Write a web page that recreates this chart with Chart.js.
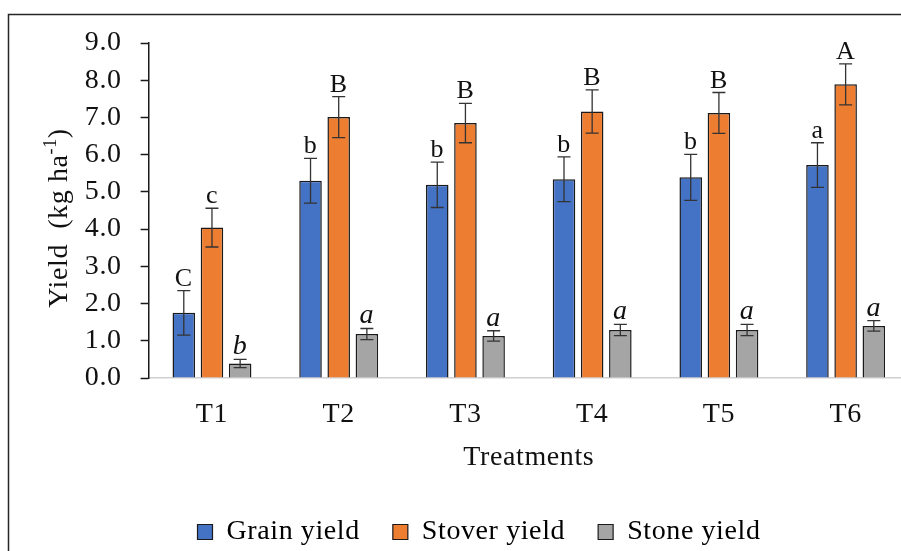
<!DOCTYPE html>
<html>
<head>
<meta charset="utf-8">
<script src="https://cdn.jsdelivr.net/npm/chart.js@4.4.1/dist/chart.umd.min.js"></script>
<style>
  html, body { margin: 0; padding: 0; background: #fff; overflow: hidden; }
  #wrap { position: relative; width: 909px; height: 556px; }
</style>
</head>
<body>
<div id="wrap"><canvas id="yieldChart" width="909" height="556"></canvas></div>
<script>
const treatments = ['T1', 'T2', 'T3', 'T4', 'T5', 'T6'];
const grainYield = [1.75, 5.30, 5.19, 5.34, 5.39, 5.72];
const stoverYield = [4.04, 7.01, 6.85, 7.16, 7.12, 7.89];
const stoneYield = [0.39, 1.18, 1.13, 1.29, 1.29, 1.40];
const grainErr = [0.60, 0.60, 0.61, 0.60, 0.62, 0.60];
const stoverErr = [0.52, 0.55, 0.53, 0.58, 0.55, 0.55];
const stoneErr = [0.11, 0.15, 0.14, 0.15, 0.15, 0.14];
const grainLetters = ['C', 'b', 'b', 'b', 'b', 'a'];
const stoverLetters = ['c', 'B', 'B', 'B', 'B', 'A'];
const stoneLetters = ['b', 'a', 'a', 'a', 'a', 'a'];

const serif = "'Liberation Serif', 'Times New Roman', serif";
const textColor = '#111';

// the original text is a little spread out
const spacingPlugin = {
    id: 'spacing',
    beforeLayout(chart) { chart.ctx.letterSpacing = '0.6px'; },
    beforeDraw(chart) { chart.ctx.letterSpacing = '0.6px'; }
};

// error bars and significance letters on top of each bar
const errorBarPlugin = {
    id: 'errorBars',
    afterDatasetsDraw(chart) {
        const ctx = chart.ctx;
        const yScale = chart.scales.y;
        const errs = [grainErr, stoverErr, stoneErr];
        const letters = [grainLetters, stoverLetters, stoneLetters];
        chart.data.datasets.forEach(function (ds, di) {
            const meta = chart.getDatasetMeta(di);
            meta.data.forEach(function (bar, i) {
                const v = ds.data[i];
                const e = errs[di][i];
                const yTop = yScale.getPixelForValue(v + e);
                const yBot = yScale.getPixelForValue(v - e);
                const x = bar.x;
                ctx.save();
                ctx.strokeStyle = '#333';
                ctx.lineWidth = 1.3;
                ctx.beginPath();
                ctx.moveTo(x, yTop);
                ctx.lineTo(x, yBot);
                ctx.moveTo(x - 6.5, yTop);
                ctx.lineTo(x + 6.5, yTop);
                ctx.moveTo(x - 6.5, yBot);
                ctx.lineTo(x + 6.5, yBot);
                ctx.stroke();
                ctx.fillStyle = textColor;
                ctx.textAlign = 'center';
                ctx.textBaseline = 'alphabetic';
                ctx.font = (di === 2 ? 'italic 28px ' : '26px ') + serif;
                ctx.fillText(letters[di][i], x, yTop - 5);
                ctx.restore();
            });
        });
    }
};

// outer frame and rotated y title with superscript
const framePlugin = {
    id: 'frame',
    afterDraw(chart) {
        const ctx = chart.ctx;
        ctx.save();
        ctx.strokeStyle = '#262626';
        ctx.lineWidth = 1.5;
        ctx.beginPath();
        ctx.moveTo(8.5, chart.height);
        ctx.lineTo(8.5, 14.5);
        ctx.lineTo(chart.width, 14.5);
        ctx.stroke();

        ctx.translate(58, 218);
        ctx.rotate(-Math.PI / 2);
        ctx.fillStyle = textColor;
        ctx.textBaseline = 'alphabetic';
        ctx.textAlign = 'left';
        const mainFont = '28px ' + serif;
        const supFont = '18px ' + serif;
        const part1 = 'Yield  (kg ha';
        const sup = '-1';
        const part2 = ')';
        ctx.font = mainFont;
        const w1 = ctx.measureText(part1).width;
        const w3 = ctx.measureText(part2).width;
        ctx.font = supFont;
        const w2 = ctx.measureText(sup).width;
        let x = -(w1 + w2 + w3) / 2;
        const base = 9;
        ctx.font = mainFont;
        ctx.fillText(part1, x, base);
        x += w1;
        ctx.font = supFont;
        ctx.fillText(sup, x, base - 11);
        x += w2;
        ctx.font = mainFont;
        ctx.fillText(part2, x, base);
        ctx.restore();
    }
};

const dataToPlot = {
    labels: treatments,
    datasets: [{
        label: 'Grain yield',
        data: grainYield,
        backgroundColor: '#4472C4',
        borderColor: '#1a1a1a',
        borderWidth: 1.5
    },
    {
        label: 'Stover yield',
        data: stoverYield,
        backgroundColor: '#ED7D31',
        borderColor: '#1a1a1a',
        borderWidth: 1.5
    },
    {
        label: 'Stone yield',
        data: stoneYield,
        backgroundColor: '#A5A5A5',
        borderColor: '#1a1a1a',
        borderWidth: 1.5
    }]
};

const options = {
    responsive: false,
    animation: false,
    devicePixelRatio: 1,
    layout: {
        padding: { left: 49, right: 0, top: 43, bottom: 0 }
    },
    datasets: {
        bar: {
            barPercentage: 0.8,
            categoryPercentage: 0.667
        }
    },
    plugins: {
        legend: {
            display: true,
            position: 'bottom',
            labels: {
                boxWidth: 15,
                boxHeight: 15,
                padding: 33,
                color: textColor,
                font: { family: serif, size: 28 },
                generateLabels: function (chart) {
                    return chart.data.datasets.map(function (ds, i) {
                        return {
                            text: ds.label,
                            fillStyle: ds.backgroundColor,
                            strokeStyle: '#1a1a1a',
                            lineWidth: 1.2,
                            datasetIndex: i
                        };
                    });
                }
            }
        },
        tooltip: { enabled: false }
    },
    scales: {
        x: {
            afterFit: function (scale) { scale.height = 107; },
            grid: { display: false, drawTicks: false },
            border: { display: true, color: '#d0d0d0', width: 1.5 },
            ticks: {
                color: textColor,
                padding: 20,
                font: { family: serif, size: 28 }
            },
            title: {
                display: true,
                text: 'Treatments',
                color: textColor,
                padding: { top: 0, bottom: 11 },
                font: { family: serif, size: 28 }
            }
        },
        y: {
            min: 0,
            max: 9,
            afterFit: function (scale) { scale.width = 99.6; },
            grid: { drawOnChartArea: false, drawTicks: true, tickLength: 8, tickColor: '#1a1a1a', tickWidth: 1.5 },
            border: { display: true, color: '#1a1a1a', width: 1.5 },
            ticks: {
                stepSize: 1,
                color: textColor,
                padding: 19,
                font: { family: serif, size: 28 },
                callback: function (value) { return value.toFixed(1); }
            }
        }
    }
};

const ctx = document.getElementById('yieldChart').getContext('2d');
const chart = new Chart(ctx, {
    type: 'bar',
    data: dataToPlot,
    options: options,
    plugins: [spacingPlugin, errorBarPlugin, framePlugin]
});
</script>
</body>
</html>
